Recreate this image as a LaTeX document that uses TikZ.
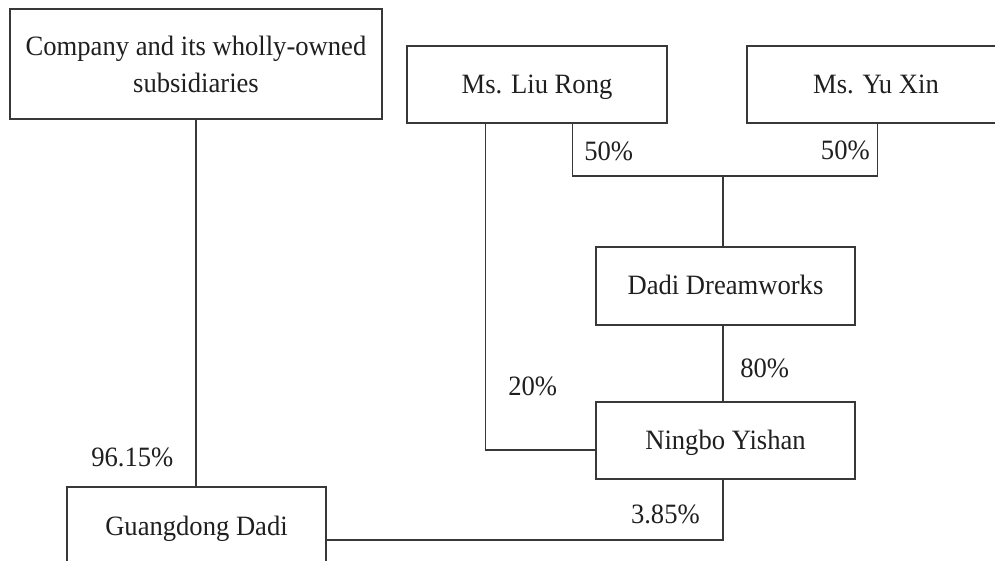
\documentclass[tikz,border=0pt]{standalone}
\usepackage{fontspec}
\setmainfont{Liberation Serif}[FakeStretch=0.95]
\usetikzlibrary{calc}
\begin{document}
\def\px{0.75pt}
\begin{tikzpicture}[x=0.75pt,y=-0.75pt,
  boxbase/.style={draw=black!78, line width=1pt, inner sep=0pt, text=black!88,
    font=\fontsize{21}{27.75}\selectfont},
  onebox/.style={boxbase, text height=12.8pt, text depth=0pt},
  conn/.style={draw=black!78, line width=1pt},
  pct/.style={inner sep=0pt, text=black!88, font=\fontsize{21}{24}\selectfont}]
\useasboundingbox (0,0) rectangle (995,560);

% boxes
\node[boxbase, align=center, minimum width=372*\px, minimum height=110*\px] (comp) at (196,64)
  {Company and its wholly-owned\\subsidiaries};
\node[onebox, minimum width=260*\px, minimum height=77*\px] (liu) at (537,84.5) {Ms. Liu Rong};
\node[onebox, minimum width=258*\px, minimum height=77*\px] (yu) at (876,84.5) {Ms. Yu Xin};
\node[onebox, minimum width=259*\px, minimum height=78*\px] (dw) at (725.5,286) {Dadi Dreamworks};
\node[onebox, minimum width=259*\px, minimum height=77*\px] (ny) at (725.5,440.5) {Ningbo Yishan};
\node[onebox, minimum width=259*\px, minimum height=80*\px] (gd) at (196.5,527) {Guangdong Dadi};

% junction of the two 50% holdings
\coordinate (j) at (723,176);

% connectors
\draw[conn] (comp.south) -- (comp.south |- gd.north);
\draw[conn] ($(liu.south west)+(166,0)$) |- (j) -| ($(yu.south west)+(131,0)$);
\draw[conn] (j) -- (j |- dw.north);
\draw[conn] (j |- dw.south) -- (j |- ny.north);
\draw[conn] ($(liu.south west)+(79,0)$) |- ($(ny.west)+(0,9.5)$);
\draw[conn] (j |- ny.south) |- ($(gd.east)+(0,13)$);

% percentages
\node[pct, anchor=base west] (p50a) at (584,160) {50\%};
\node[pct, anchor=base east] (p50b) at (870,159.5) {50\%};
\node[pct, anchor=base west] (p80) at (740,377) {80\%};
\node[pct, anchor=base west] (p20) at (508,395) {20\%};
\node[pct, anchor=base west] (p96) at (91,466) {96.15\%};
\node[pct, anchor=base east] (p385) at (700,523) {3.85\%};
\end{tikzpicture}
\end{document}
